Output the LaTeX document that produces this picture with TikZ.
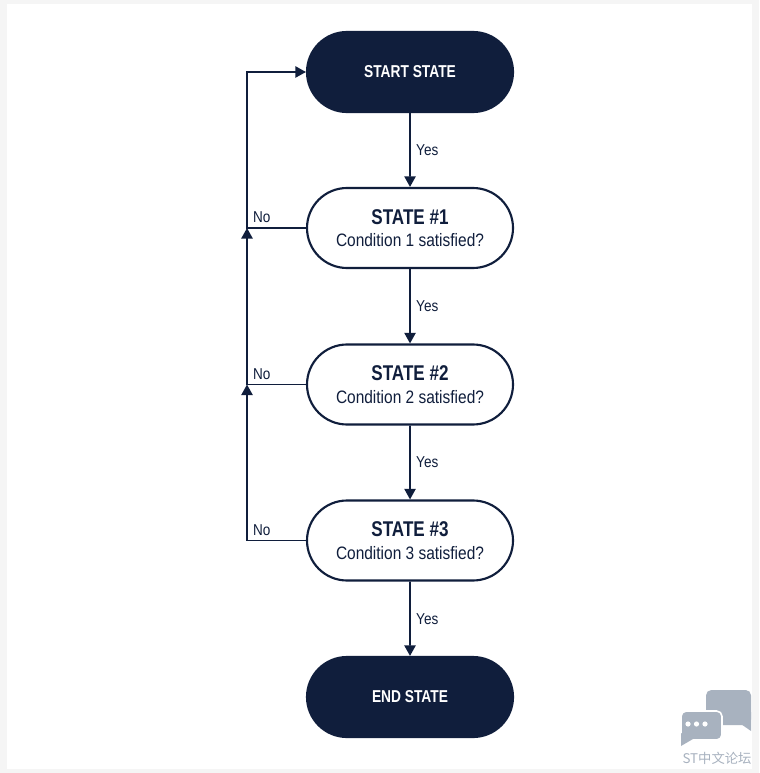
\documentclass[tikz,border=0pt]{standalone}
\usepackage{fontspec}
\setmainfont{Liberation Sans}[FakeStretch=0.86]
\newfontfamily\headfont{Liberation Sans}[FakeStretch=0.8]
\newfontfamily\cjk{Noto Sans CJK SC}
\usetikzlibrary{shapes.misc}
\usetikzlibrary{arrows.meta}
\definecolor{navy}{HTML}{101E3C}
\definecolor{markgray}{HTML}{A8B2BF}

\tikzset{
  pill/.style={rounded rectangle, minimum width=154.5pt, minimum height=60pt,
    line width=1.6pt, draw=navy, align=center, inner sep=0pt},
  term/.style={pill, fill=navy, text=white,
    font=\headfont\bfseries\fontsize{12.9}{14}\selectfont},
  state/.style={pill, fill=white, text=navy, font=\fontsize{13.5}{16.5}\selectfont},
  flow/.style={draw=navy, line width=1.3pt},
  arrow/.style={flow, -{Triangle[width=8.5pt,length=8pt]}},
  yes/.style={midway, right, inner sep=0pt, xshift=4pt, text=navy,
    font=\fontsize{11.8}{13}\selectfont},
  no/.style={above right, inner sep=0pt, xshift=4pt, yshift=3pt, text=navy,
    font=\fontsize{11.8}{13}\selectfont}
}
\newcommand{\statehead}[1]{{\headfont\bfseries\fontsize{16}{18}\selectfont #1}}

\begin{document}
\begin{tikzpicture}[x=0.75pt,y=-0.75pt]
\useasboundingbox (0,0) rectangle (759,773);

% card
\fill[black!4] (0,0) rectangle (759,773);
\fill[white] (7,4) rectangle (752,769);

% states
\node[term] (start) at (410,72) {START STATE};
\node[state] (s1) at (410,228) {\statehead{STATE \#1}\\[0.5pt]Condition 1 satisfied?};
\node[state] (s2) at (410,384.5) {\statehead{STATE \#2}\\[0.5pt]Condition 2 satisfied?};
\node[state] (s3) at (410,540.5) {\statehead{STATE \#3}\\[0.5pt]Condition 3 satisfied?};
\node[term] (end) at (410,697) {END STATE};

% yes branch
\draw[arrow] (start) -- (s1) node[yes] {Yes};
\draw[arrow] (s1) -- (s2) node[yes] {Yes};
\draw[arrow] (s2) -- (s3) node[yes] {Yes};
\draw[arrow] (s3) -- (end) node[yes] {Yes};

% no branch
\coordinate (loop) at (247,72);
\draw[arrow] (s1.west) -- (s1.west -| loop) node[no] {No} -- (loop) -- (start.west);
\draw[arrow] (s2.west) -- (s2.west -| loop) node[no] {No} -- (s1.west -| loop);
\draw[arrow] (s3.west) -- (s3.west -| loop) node[no] {No} -- (s2.west -| loop);

% watermark
\fill[markgray, rounded corners=4pt] (706,690) rectangle (751,725);
\fill[markgray] (738,722) -- (751,731) -- (751,712) -- cycle;
\filldraw[markgray, draw=white, line width=1.2pt, rounded corners=4pt]
  (681,711) rectangle (722,740);
\fill[markgray] (681,733) -- (681,746) -- (693,739) -- cycle;
\foreach \dx in {688,696.5,705}
  \fill[white] (\dx,724) circle (2.6);
\node[text=markgray, font=\cjk\fontsize{10}{11}\selectfont, inner sep=0pt]
  (wm) at (717,758.5) {ST中文论坛};
\end{tikzpicture}
\end{document}
